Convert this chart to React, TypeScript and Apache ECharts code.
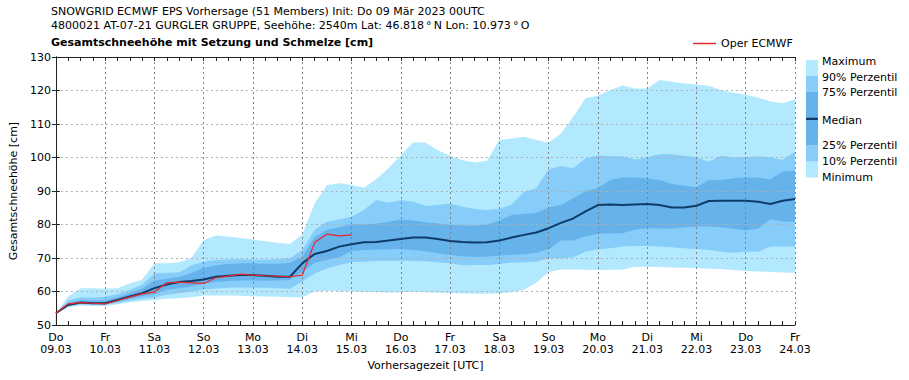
import React, { useEffect, useRef } from "react";
import * as echarts from "echarts";

// ---- data (6-hourly steps from Do 09.03 00UTC) ----
const STEP_HOURS = 6;
const DAY_NAMES = ["Do", "Fr", "Sa", "So", "Mo", "Di", "Mi", "Do", "Fr", "Sa", "So", "Mo", "Di", "Mi", "Do", "Fr"];
const DAY_DATES = ["09.03", "10.03", "11.03", "12.03", "13.03", "14.03", "15.03", "16.03", "17.03", "18.03", "19.03", "20.03", "21.03", "22.03", "23.03", "24.03"];

const MINIMUM = [
  53.5, 55.3, 55.8, 55.7, 55.7, 56.2, 56.8, 57.2, 57.5, 57.8,
  58.0, 58.3, 58.8, 58.8, 58.8, 58.7, 58.6, 58.5, 58.4, 58.3,
  58.2, 60.0, 60.2, 60.1, 60.0, 59.9, 59.8, 59.7, 59.8, 59.9,
  59.8, 59.6, 59.5, 59.4, 59.3, 59.3, 59.4, 59.8, 60.5, 62.6,
  65.8, 66.6, 66.6, 66.5, 66.4, 66.5, 66.5, 67.4, 67.4, 67.3,
  67.2, 67.1, 67.0, 66.8, 66.7, 66.4, 66.1, 66.0, 65.8, 65.7, 65.6,
];
const P10 = [
  53.5, 55.6, 56.1, 56.0, 56.0, 56.6, 57.3, 57.8, 58.2, 59.0,
  59.5, 60.0, 60.6, 60.9, 61.1, 61.2, 61.2, 61.1, 61.0, 60.8,
  63.0, 65.4, 66.9, 67.9, 68.7, 68.9, 69.1, 69.1, 69.2, 69.1,
  69.0, 68.7, 68.4, 67.8, 67.9, 67.9, 68.2, 68.6, 68.7, 68.9,
  69.9, 69.9, 70.2, 71.9, 72.6, 72.9, 73.4, 73.6, 73.6, 73.4,
  73.2, 72.9, 72.7, 72.4, 71.9, 71.6, 71.9, 71.9, 73.4, 73.4, 73.4,
];
const P25 = [
  53.5, 55.8, 56.4, 56.3, 56.3, 57.0, 57.8, 58.6, 59.2, 60.5,
  61.0, 61.5, 62.3, 62.8, 63.1, 63.3, 63.3, 63.2, 63.3, 63.4,
  65.8, 68.6, 69.4, 70.2, 72.1, 72.4, 72.5, 72.6, 72.7, 72.4,
  72.0, 71.4, 70.9, 70.5, 70.3, 70.4, 70.7, 71.0, 71.1, 71.6,
  72.6, 75.2, 75.2, 76.4, 77.2, 77.4, 77.4, 78.4, 78.9, 78.8,
  78.7, 79.1, 79.4, 79.4, 79.1, 78.7, 78.2, 78.7, 81.6, 80.9, 80.8,
];
const MEDIAN = [
  53.5, 56.0, 56.7, 56.5, 56.5, 57.5, 58.5, 59.5, 61.0, 62.1,
  62.8, 63.1, 63.6, 64.4, 64.7, 64.9, 64.9, 64.7, 64.4, 64.4,
  68.4, 71.2, 72.1, 73.4, 74.1, 74.7, 74.8, 75.2, 75.7, 76.1,
  76.1, 75.7, 75.1, 74.8, 74.6, 74.7, 75.2, 76.1, 76.9, 77.6,
  78.9, 80.5, 81.8, 83.9, 85.8, 86.0, 85.8, 86.0, 86.1, 85.8,
  85.1, 85.1, 85.6, 87.0, 87.1, 87.1, 87.1, 86.8, 86.1, 87.1, 87.6,
];
const P75 = [
  53.5, 56.6, 57.4, 57.3, 57.4, 58.3, 59.5, 60.8, 63.3, 63.8,
  64.3, 65.5, 67.0, 67.8, 68.2, 68.4, 68.4, 68.3, 68.3, 68.6,
  70.4, 76.2, 78.4, 79.2, 80.1, 80.1, 80.2, 80.8, 81.5, 81.2,
  80.7, 80.3, 79.9, 79.7, 79.7, 79.9, 81.2, 82.8, 83.1, 83.5,
  85.1, 85.8, 87.8, 90.0, 90.8, 93.3, 94.0, 94.0, 93.8, 93.3,
  92.1, 91.6, 91.1, 93.3, 93.3, 93.8, 94.0, 94.0, 93.5, 95.8, 96.1,
];
const P90 = [
  53.5, 57.3, 58.3, 58.2, 58.4, 59.2, 60.5, 62.0, 65.4, 65.6,
  65.7, 67.8, 68.9, 69.4, 69.6, 69.6, 69.5, 69.5, 69.6, 69.9,
  72.4, 78.4, 80.8, 81.5, 82.3, 84.3, 87.3, 86.5, 87.3, 86.8,
  85.5, 85.8, 86.3, 85.4, 84.6, 84.3, 84.6, 86.0, 89.8, 90.8,
  96.5, 97.5, 96.8, 99.8, 100.7, 100.4, 100.4, 99.4, 100.1, 101.0,
  101.0, 100.5, 100.1, 98.7, 100.5, 100.1, 100.1, 100.4, 100.1, 99.3, 101.7,
];
const MAXIMUM = [
  53.5, 58.5, 61.0, 61.0, 60.8, 61.0, 62.4, 63.6, 68.4, 68.4,
  68.7, 70.0, 75.4, 76.7, 76.4, 76.0, 75.5, 75.0, 74.5, 74.2,
  77.0, 86.3, 91.8, 92.3, 91.8, 91.0, 93.5, 96.8, 100.7, 104.5,
  104.5, 102.2, 100.5, 99.2, 98.5, 99.0, 105.2, 105.7, 106.2, 105.2,
  104.5, 107.2, 112.2, 117.7, 118.4, 120.1, 121.6, 120.6, 120.6, 123.1,
  122.6, 122.1, 121.8, 121.4, 120.1, 119.3, 118.7, 117.9, 116.7, 116.2, 117.4,
];
const OPER = [
  53.6, 56.3, 56.7, 56.5, 56.3, 57.3, 58.3, 59.3, 59.9, 62.6,
  62.8, 62.6, 62.4, 64.1, 64.6, 65.2, 64.9, 64.7, 64.6, 64.4,
  64.9, 74.6, 77.1, 76.6, 76.9,
];

const LEGEND_LABELS = ["Maximum", "90% Perzentil", "75% Perzentil", "Median", "25% Perzentil", "10% Perzentil", "Minimum"];

// ---- styles ----
const FONT = "DejaVu Sans";
const LIGHT = "#b3e9fe";
const MID = "#87cdf9";
const DARK = "#66b3ec";
const NAVY = "#0e3c68";
const RED = "#e8282b";

const hours = MEDIAN.map((_, i) => i * STEP_HOURS);

// Layered fills, drawn top-down: each later one covers the lower part of the previous
const fillLayers: [number[], string][] = [
  [MAXIMUM, LIGHT],
  [P90, MID],
  [P75, DARK],
  [P25, MID],
  [P10, LIGHT],
  [MINIMUM, "#ffffff"],
];

const bandSeries = fillLayers.map(([arr, color], k) => ({
  type: "line",
  name: "band" + k,
  symbol: "none",
  silent: true,
  z: 1,
  lineStyle: { width: 0, opacity: 0 },
  areaStyle: { color, opacity: 1, origin: "start" },
  data: arr.map((v, i) => [hours[i], v]),
}));

const xLabel = (v: number) => {
  const d = Math.round(v / 24);
  return DAY_NAMES[d] + "\n" + DAY_DATES[d];
};

const commonX = {
  type: "value",
  min: 0,
  max: 360,
  interval: 24,
  z: 2,
  axisLine: { show: true, lineStyle: { color: "#222", width: 1 } },
  axisTick: { show: true, inside: true, length: 4, lineStyle: { color: "#222" } },
  minorTick: { show: true, splitNumber: 4, length: 4, lineStyle: { color: "#222" } },
};
const commonY = {
  type: "value",
  min: 50,
  max: 130,
  interval: 10,
  z: 2,
  axisLine: { show: true, lineStyle: { color: "#222", width: 1 } },
  axisTick: { show: true, inside: true, length: 4, lineStyle: { color: "#222" } },
};

const legendY = [60, 75.7, 91.7, 117.5, 120, 145.7, 161.7, 177.5];
const legendColors = [LIGHT, MID, DARK, null, DARK, MID, LIGHT];
const legendTextY = [61, 77, 92, 120, 145, 161, 177];

const graphics: any[] = [
  { type: "text", left: 51, top: 6, style: { text: "SNOWGRID ECMWF EPS Vorhersage (51 Members) Init: Do 09 Mär 2023 00UTC", font: `11px "${FONT}"`, fill: "#000" } },
  { type: "text", left: 51, top: 20, style: { text: "4800021 AT-07-21 GURGLER GRUPPE, Seehöhe: 2540m Lat: 46.818\u2009°\u2009N Lon: 10.973\u2009°\u2009O", font: `11px "${FONT}"`, fill: "#000" } },
  { type: "text", left: 51, top: 37, style: { text: "Gesamtschneehöhe mit Setzung und Schmelze [cm]", font: `bold 11px "${FONT}"`, fill: "#000" } },
];
[0, 1, 2, 4, 5, 6].forEach((k) => {
  graphics.push({
    type: "rect",
    shape: { x: 806, y: legendY[k], width: 12, height: legendY[k + 1] - legendY[k] },
    style: { fill: legendColors[k] },
  });
});
graphics.push({ type: "rect", shape: { x: 806, y: 117.5, width: 12, height: 2.5 }, style: { fill: NAVY } });
LEGEND_LABELS.forEach((t, k) => {
  graphics.push({
    type: "text",
    x: 822,
    y: legendTextY[k],
    style: { text: t, font: `11px "${FONT}"`, fill: "#000", textVerticalAlign: "middle" },
  });
});

const option: any = {
  animation: false,
  backgroundColor: "#fff",
  textStyle: { fontFamily: FONT },
  grid: { left: 51, right: 114, top: 57, bottom: 55, containLabel: false },
  legend: {
    data: [{ name: "Oper ECMWF", icon: "rect" }],
    left: 688,
    top: 33,
    itemWidth: 23,
    itemHeight: 1.5,
    textStyle: { fontFamily: FONT, fontSize: 11, color: "#000" },
  },
  xAxis: [
    {
      ...commonX,
      position: "bottom",
      name: "Vorhersagezeit [UTC]",
      nameLocation: "middle",
      nameGap: 33,
      nameTextStyle: { fontFamily: FONT, fontSize: 11, color: "#000" },
      axisLabel: { show: true, formatter: xLabel, fontFamily: FONT, fontSize: 11, color: "#000", margin: 6, lineHeight: 12, showMinLabel: true, showMaxLabel: true },
      splitLine: { show: true, lineStyle: { color: "#808080", type: [2, 3], width: 1 } },
    },
    {
      ...commonX,
      position: "top",
      axisLabel: { show: false },
      splitLine: { show: false },
    },
  ],
  yAxis: [
    {
      ...commonY,
      position: "left",
      name: "Gesamtschneehöhe [cm]",
      nameLocation: "middle",
      nameGap: 30,
      nameTextStyle: { fontFamily: FONT, fontSize: 11, color: "#000" },
      axisLabel: { show: true, fontFamily: FONT, fontSize: 11, color: "#000", margin: 5 },
      splitLine: { show: true, lineStyle: { color: "#b0b0b0", type: [2, 3], width: 1 } },
    },
    {
      ...commonY,
      position: "right",
      axisLabel: { show: false },
      splitLine: { show: false },
    },
  ],
  series: [
    ...bandSeries,
    {
      type: "line",
      name: "Median",
      symbol: "none",
      z: 3,
      lineStyle: { color: NAVY, width: 2 },
      data: MEDIAN.map((v, i) => [hours[i], v]),
    },
    {
      type: "line",
      name: "Oper ECMWF",
      symbol: "none",
      z: 4,
      color: RED,
      itemStyle: { color: RED },
      lineStyle: { color: RED, width: 1.2 },
      data: OPER.map((v, i) => [hours[i], v]),
    },
  ],
  graphic: graphics,
};

export default function App() {
  const ref = useRef<HTMLDivElement>(null);
  useEffect(() => {
    if (!ref.current) return;
    const chart = echarts.init(ref.current, null, { renderer: "svg" });
    chart.setOption(option);
    return () => chart.dispose();
  }, []);
  return <div ref={ref} style={{ position: "absolute", left: 0, top: 0, width: 909, height: 380 }} />;
}
